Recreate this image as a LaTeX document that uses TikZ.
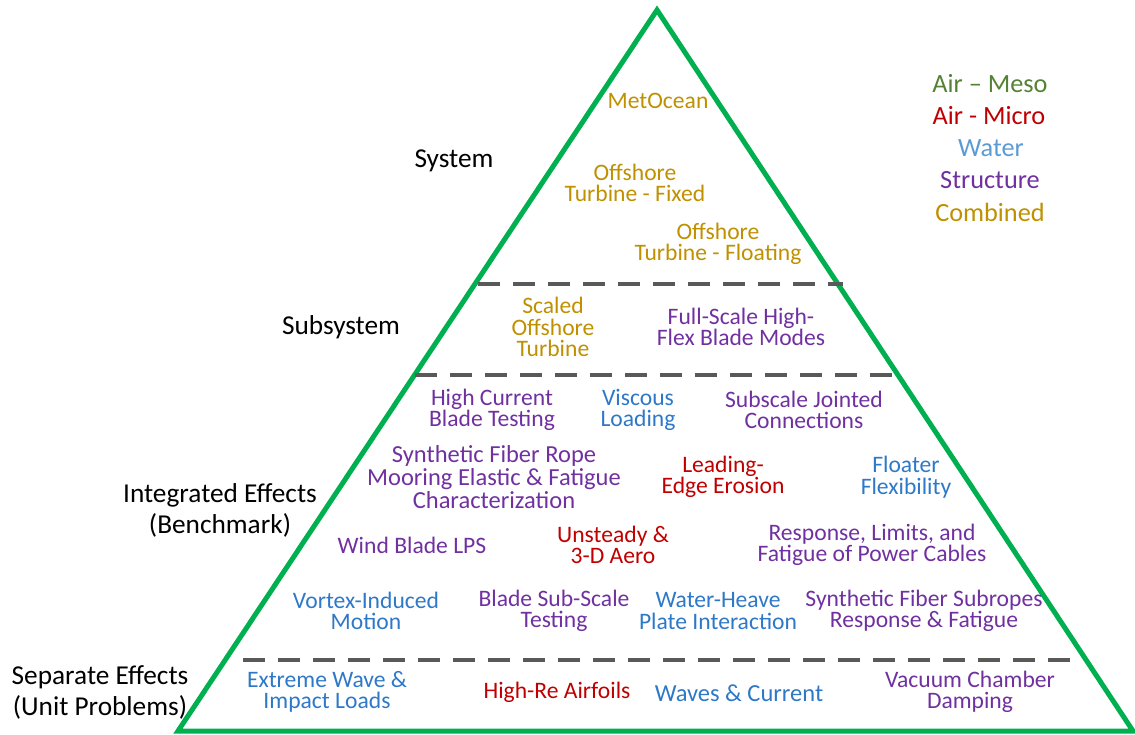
\documentclass[tikz,border=0pt]{standalone}
\usepackage{fontspec}
\setmainfont{Carlito}
\usetikzlibrary{positioning}
\definecolor{pyr}{HTML}{00B050}
\definecolor{sep}{HTML}{595959}
\definecolor{meso}{HTML}{548235}
\definecolor{micro}{HTML}{C00000}
\definecolor{water}{HTML}{5B9BD5}
\definecolor{wat}{HTML}{2E78C8}
\definecolor{struc}{HTML}{7030A0}
\definecolor{comb}{HTML}{BF9000}

\begin{document}
\begin{tikzpicture}[
    x=1pt,y=-1pt,
    txt/.style={inner sep=0pt,align=center,font=\fontsize{23.6}{21.5}\selectfont},
    lvl/.style={inner sep=0pt,align=center,font=\fontsize{27.3}{31}\selectfont},
    key/.style={inner sep=0pt,font=\fontsize{26.3}{31}\selectfont},
    tier/.style={sep,line width=4pt,dash pattern=on 22pt off 13pt}
]
\useasboundingbox (0,0) rectangle (1135,735);

% Pyramid
\coordinate (apex) at (657,10);
\coordinate (bl) at (178,731);
\coordinate (br) at (1133,731);
\draw[pyr,line width=5pt,line join=miter] (apex) -- (bl) -- (br) -- cycle;

% Tier lines
\draw[tier] (478,284) -- (843,284);
\draw[tier] (415,375) -- (900,375);
\draw[tier] (243,660) -- (1078,660);

% Levels
\node[lvl] (system) at (454,161) {System};
\node[lvl] (subsys) at (341,327) {Subsystem};
\node[lvl] (integ) at (220,510) {Integrated Effects\\(Benchmark)};
\node[lvl] (separ) at (100,692) {Separate Effects\\(Unit Problems)};

% System
\node[txt,comb] (metocean) at (658,101) {MetOcean};
\node[txt,comb] (fixed) at (635,183) {Offshore\\Turbine - Fixed};
\node[txt,comb] (floating) at (718,244) {Offshore\\Turbine - Floating};

% Subsystem
\node[txt,comb] (scaled) at (553,327) {Scaled\\Offshore\\Turbine};
\node[txt,struc] (fullscale) at (741,327) {Full-Scale High-\\Flex Blade Modes};

% Integrated effects
\node[txt,struc] (current) at (492,410) {High Current\\Blade Testing};
\node[txt,wat] (viscous) at (638,410) {Viscous\\Loading};
\node[txt,struc] (jointed) at (804,410) {Subscale Jointed\\Connections};
\node[txt,struc,font=\fontsize{24.5}{23}\selectfont] (rope) at (494,477) {Synthetic Fiber Rope\\Mooring Elastic \& Fatigue\\Characterization};
\node[txt,micro] (erosion) at (723,477) {Leading-\\Edge Erosion};
\node[txt,wat] (floater) at (906,477) {Floater\\Flexibility};
\node[txt,struc] (lps) at (412,545) {Wind Blade LPS};
\node[txt,micro] (unsteady) at (613,545) {Unsteady \&\\3-D Aero};
\node[txt,struc] (cables) at (872,545) {Response, Limits, and\\Fatigue of Power Cables};
\node[txt,wat] (vortex) at (366,611) {Vortex-Induced\\Motion};
\node[txt,struc] (subscale) at (554,611) {Blade Sub-Scale\\Testing};
\node[txt,wat] (heave) at (718,611) {Water-Heave\\Plate Interaction};
\node[txt,struc] (subropes) at (924,611) {Synthetic Fiber Subropes\\Response \& Fatigue};

% Separate effects
\node[txt,wat] (extreme) at (327,692) {Extreme Wave \&\\Impact Loads};
\node[txt,micro] (airfoils) at (557,692) {High-Re Airfoils};
\node[txt,wat,font=\fontsize{24.5}{21.5}\selectfont] (waves) at (739,693) {Waves \& Current};
\node[txt,struc] (vacuum) at (970,692) {Vacuum Chamber\\Damping};

% Legend
\node[key,meso] (kmeso) at (990,84) {Air -- Meso};
\node[key,micro] (kmicro) at (989,116) {Air - Micro};
\node[key,water] (kwater) at (991,148) {Water};
\node[key,struc] (kstruc) at (990,180) {Structure};
\node[key,comb] (kcomb) at (990,212) {Combined};
\end{tikzpicture}
\end{document}
